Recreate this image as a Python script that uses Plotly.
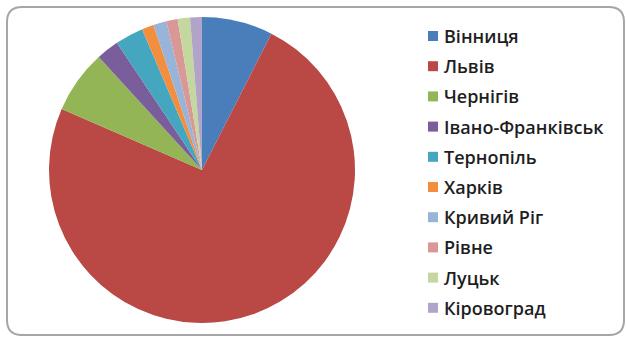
import plotly.graph_objects as go

# Share by city (percent)
cities = ["Вінниця", "Львів", "Чернігів", "Івано-Франківськ", "Тернопіль",
          "Харків", "Кривий Ріг", "Рівне", "Луцьк", "Кіровоград"]
shares = [7.5, 74.1, 6.7, 2.4, 3.0, 1.25, 1.4, 1.2, 1.3, 1.25]
colors = ["#4A7EBB", "#BA4845", "#93B556", "#7A5E9C", "#45A6BF",
          "#F28E3E", "#98B4D8", "#D99896", "#C4D79F", "#B2A4C8"]

W, H = 626, 338
cx, cy, r = 202, 170, 153

fig = go.Figure(go.Pie(
    labels=cities,
    values=shares,
    sort=False,
    direction="clockwise",
    rotation=0,
    marker=dict(colors=colors, line=dict(width=0)),
    textinfo="none",
    hoverinfo="label+percent",
    showlegend=False,
    domain=dict(x=[(cx - r) / W, (cx + r) / W],
                y=[1 - (cy + r) / H, 1 - (cy - r) / H]),
))

# Rounded outer frame
x0, y0, x1, y1, rad = 7 / W, 1 - 7 / H, 624 / W, 1 - 335 / H, 15
rx, ry = rad / W, rad / H
frame = (f"M {x0 + rx},{y0} L {x1 - rx},{y0} Q {x1},{y0} {x1},{y0 - ry} "
         f"L {x1},{y1 + ry} Q {x1},{y1} {x1 - rx},{y1} "
         f"L {x0 + rx},{y1} Q {x0},{y1} {x0},{y1 + ry} "
         f"L {x0},{y0 - ry} Q {x0},{y0} {x0 + rx},{y0} Z")
shapes = [dict(type="path", path=frame, xref="paper", yref="paper",
               line=dict(color="#A6A6A6", width=2), fillcolor="rgba(0,0,0,0)")]

# Legend: colour swatch + label per city
annotations = []
row0, step, sq = 36, 30.2, 10
for i, (name, col) in enumerate(zip(cities, colors)):
    yc = row0 + i * step
    shapes.append(dict(type="rect", xref="paper", yref="paper",
                       x0=428 / W, x1=(428 + sq) / W,
                       y0=1 - (yc + sq / 2) / H, y1=1 - (yc - sq / 2) / H,
                       fillcolor=col, line=dict(width=0)))
    annotations.append(dict(text=name, xref="paper", yref="paper",
                            x=442 / W, y=1 - yc / H, xanchor="left", yanchor="middle",
                            showarrow=False,
                            font=dict(family="Open Sans", size=18, weight=600,
                                      color="#1E1E1E")))

fig.update_layout(
    width=W, height=H,
    margin=dict(l=0, r=0, t=0, b=0),
    paper_bgcolor="white",
    plot_bgcolor="white",
    shapes=shapes,
    annotations=annotations,
)

fig.write_html("out.html")
